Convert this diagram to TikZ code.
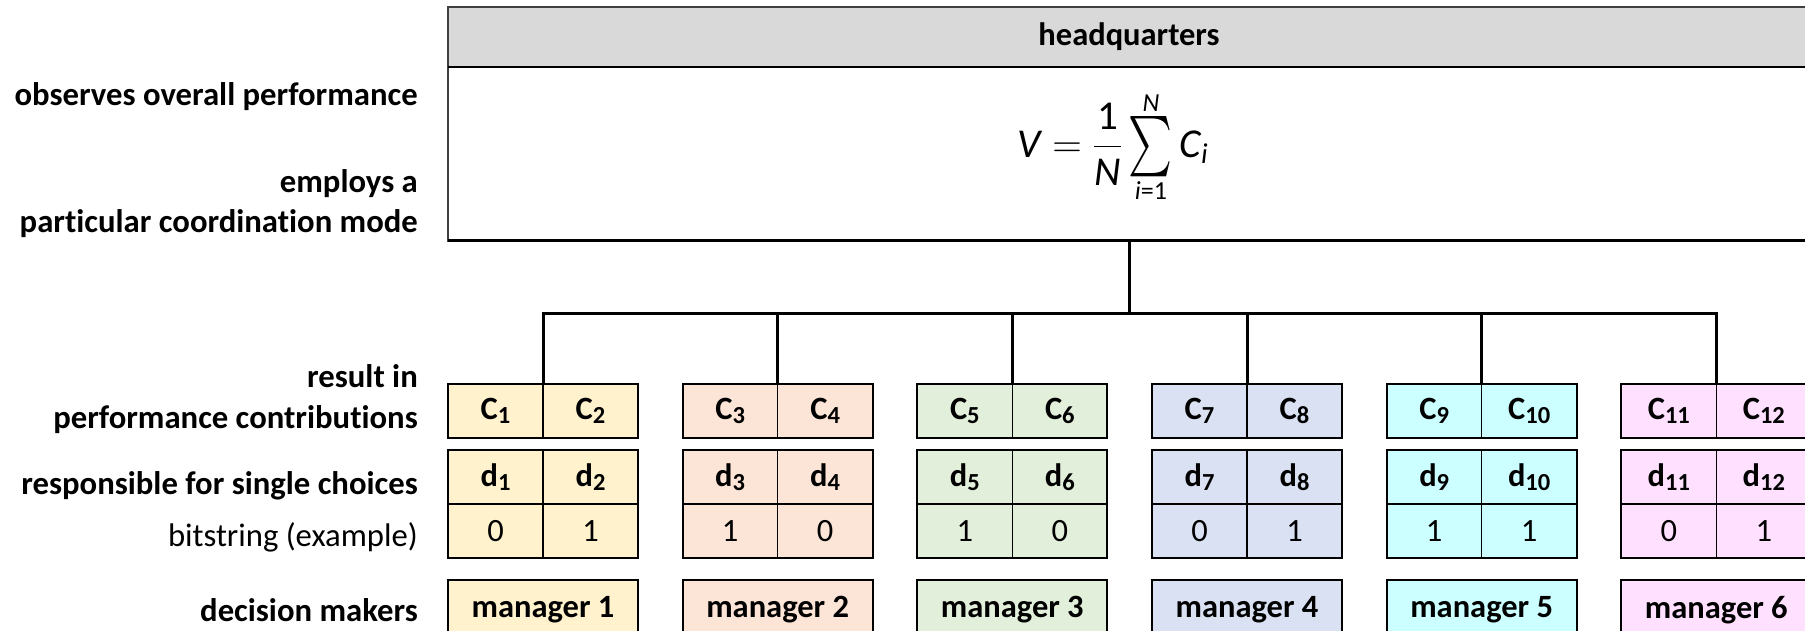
\RequirePackage{fix-cm}
\documentclass[tikz,border=0pt]{standalone}
\usepackage{amsmath}
\usepackage{graphicx}
\usepackage{fontspec}
\setmainfont{Carlito}[Ligatures=NoCommon]
\definecolor{hqgray}{HTML}{D9D9D9}
\definecolor{hqline}{HTML}{404040}
\definecolor{gA}{HTML}{FFF2CC}
\definecolor{gB}{HTML}{FCE4D6}
\definecolor{gC}{HTML}{E2EFDA}
\definecolor{gD}{HTML}{D9E1F2}
\definecolor{gE}{HTML}{CCFFFF}
\definecolor{gF}{HTML}{FFE1FF}
\newcommand\mysub[1]{\raisebox{-4pt}{\fontsize{24.5}{27}\selectfont #1}}
\newcommand\limfont{\fontsize{26}{28}\selectfont\itshape}
\begin{document}
\begin{tikzpicture}[x=1pt,y=1pt,
  cell/.style={draw=black, line width=1.5pt, minimum width=95pt, minimum height=54pt,
    inner sep=0pt, outer sep=0pt, anchor=north west, font=\fontsize{32.5}{39}\selectfont\bfseries},
  bitcell/.style={cell, font=\fontsize{32.5}{39}\selectfont},
  mgrbox/.style={draw=black, line width=2.2pt, minimum width=190pt, minimum height=60pt,
    inner sep=0pt, outer sep=0pt, anchor=north west, font=\fontsize{32.5}{39}\selectfont\bfseries},
  frame/.style={line width=2.2pt},
  tree/.style={line width=3pt},
  lab/.style={anchor=base east, inner sep=0pt, font=\fontsize{32.7}{39}\selectfont\bfseries},
  labn/.style={anchor=base east, inner sep=0pt, font=\fontsize{32.7}{39}\selectfont},
]
\useasboundingbox (0,0) rectangle (1805,-631);
\clip (0,0) rectangle (1805,-631);
\fill[white] (0,0) rectangle (1805,-631);

% headquarters
\node[draw=hqline, fill=hqgray, line width=1.5pt, minimum width=1362pt, minimum height=60pt,
  inner sep=0pt, outer sep=0pt, anchor=north west, font=\fontsize{32.5}{39}\selectfont\bfseries]
  (hqhead) at (448,-7) {headquarters};
\node[draw=hqline, line width=1.5pt, minimum width=1362pt, minimum height=174pt,
  inner sep=0pt, outer sep=0pt, anchor=north west] (hq) at (448,-67) {};
\draw[line width=2.5pt] (hq.north west) -- (hq.north east);
\draw[line width=3pt] (hq.south west) -- (hq.south east);
\node[inner sep=0pt] (formula) at (1113,-147) {\fontsize{41}{49}\selectfont
  $\displaystyle \textit{V}=\frac{\textup{1}}{\textit{N}}\mathop{\vcenter{\hbox{\resizebox{44pt}{55pt}{$\textstyle\sum$}}}}\limits_{\hbox{\limfont i\upshape =1}}^{\hbox{\limfont N}}\textit{C}_{\textit{i}}$};

% left labels
\node[lab] (l1) at (418,-105.5) {observes overall performance};
\node[lab] (l2) at (418,-192.5) {employs a};
\node[lab] (l3) at (418,-232.5) {particular coordination mode};
\node[lab] (l4) at (418,-387) {result in};
\node[lab] (l5) at (418,-428) {performance contributions};
\node[lab] (l6) at (418,-494) {responsible for single choices};
\node[labn] (l7) at (418,-546) {bitstring (example)};
\node[lab] (l8) at (418,-621.5) {decision makers};

\coordinate (bus) at (1129,-313);
\draw[tree] (hq.south) -- (bus);

\foreach \g/\col/\ba/\bb in {0/gA/0/1,1/gB/1/0,2/gC/1/0,3/gD/0/1,4/gE/1/1,5/gF/0/1}{
  \pgfmathsetmacro\gx{448+234.667*\g}
  \pgfmathtruncatemacro\i{2*\g+1}
  \pgfmathtruncatemacro\j{2*\g+2}
  \pgfmathtruncatemacro\m{\g+1}
  \node[cell, fill=\col] (c\i) at (\gx,-384) {C\mysub{\i}};
  \node[cell, fill=\col] (c\j) at (c\i.north east) {C\mysub{\j}};
  \draw[frame] (c\i.north west) rectangle (c\j.south east);
  \node[cell, fill=\col] (d\i) at (\gx,-450) {d\mysub{\i}};
  \node[cell, fill=\col] (d\j) at (d\i.north east) {d\mysub{\j}};
  \node[bitcell, fill=\col] (b\i) at (d\i.south west) {\ba};
  \node[bitcell, fill=\col] (b\j) at (d\j.south west) {\bb};
  \draw[frame] (d\i.north west) rectangle (b\j.south east);
  \node[mgrbox, fill=\col] (m\m) at (\gx,-580) {manager \m};
  \draw[tree] (bus) -| (c\i.north east);
}
\end{tikzpicture}
\end{document}
